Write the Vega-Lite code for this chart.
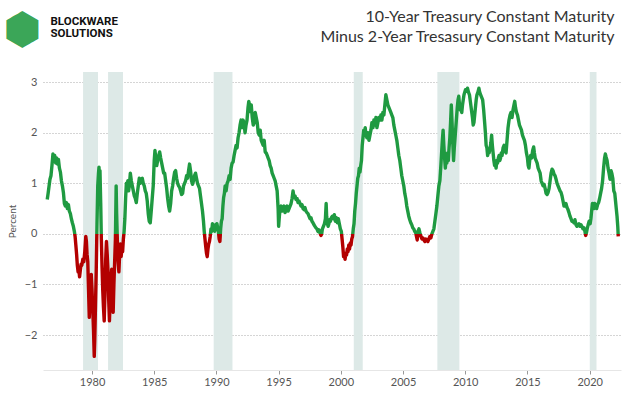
{
  "$schema": "https://vega.github.io/schema/vega-lite/v6.json",
  "width": 578,
  "height": 298,
  "autosize": {"type": "none"},
  "padding": {"left": 43, "top": 72, "right": 3, "bottom": 23},
  "background": "white",
  "config": {"view": {"stroke": null}, "font": "Lato"},
  "datasets": {
    "recessions": [
      {"start": 1979.28, "end": 1980.48},
      {"start": 1981.29, "end": 1982.49},
      {"start": 1989.78, "end": 1991.29},
      {"start": 2001.04, "end": 2001.76},
      {"start": 2007.76, "end": 2009.53},
      {"start": 2020.01, "end": 2020.55}
    ],
    "spread": [
      {"t":1976.40,"v":0.68},{"t":1976.47,"v":0.80},{"t":1976.55,"v":0.95},{"t":1976.62,"v":1.08},{"t":1976.70,"v":1.15},{"t":1976.78,"v":1.35},{"t":1976.86,"v":1.58},{"t":1976.93,"v":1.48},{"t":1977.00,"v":1.55},{"t":1977.08,"v":1.40},{"t":1977.15,"v":1.50},{"t":1977.22,"v":1.38},{"t":1977.30,"v":1.47},{"t":1977.38,"v":1.30},{"t":1977.46,"v":1.22},{"t":1977.54,"v":1.05},{"t":1977.62,"v":0.95},{"t":1977.70,"v":0.82},{"t":1977.78,"v":0.60},{"t":1977.86,"v":0.55},{"t":1977.94,"v":0.62},{"t":1978.02,"v":0.50},{"t":1978.10,"v":0.58},{"t":1978.18,"v":0.45},{"t":1978.26,"v":0.40},{"t":1978.34,"v":0.30},{"t":1978.42,"v":0.22},{"t":1978.50,"v":0.15},{"t":1978.58,"v":0.05},{"t":1978.64,"v":-0.05},{"t":1978.70,"v":-0.22},{"t":1978.76,"v":-0.40},{"t":1978.82,"v":-0.62},{"t":1978.88,"v":-0.75},{"t":1978.94,"v":-0.70},{"t":1979.00,"v":-0.85},{"t":1979.06,"v":-0.72},{"t":1979.12,"v":-0.60},{"t":1979.18,"v":-0.62},{"t":1979.26,"v":-0.50},{"t":1979.34,"v":-0.55},{"t":1979.42,"v":-0.35},{"t":1979.50,"v":-0.05},{"t":1979.55,"v":-0.15},{"t":1979.60,"v":-0.40},{"t":1979.66,"v":-0.55},{"t":1979.72,"v":-1.10},{"t":1979.78,"v":-1.65},{"t":1979.82,"v":-1.40},{"t":1979.88,"v":-0.95},{"t":1979.94,"v":-0.80},{"t":1980.00,"v":-1.10},{"t":1980.06,"v":-1.50},{"t":1980.12,"v":-1.90},{"t":1980.18,"v":-2.42},{"t":1980.22,"v":-2.10},{"t":1980.28,"v":-1.40},{"t":1980.34,"v":-0.70},{"t":1980.40,"v":0.20},{"t":1980.46,"v":0.95},{"t":1980.52,"v":1.20},{"t":1980.56,"v":1.32},{"t":1980.60,"v":1.10},{"t":1980.64,"v":1.25},{"t":1980.70,"v":0.60},{"t":1980.75,"v":-0.10},{"t":1980.80,"v":-0.60},{"t":1980.86,"v":-1.10},{"t":1980.92,"v":-1.45},{"t":1980.98,"v":-1.72},{"t":1981.04,"v":-1.20},{"t":1981.10,"v":-0.50},{"t":1981.16,"v":-0.15},{"t":1981.22,"v":-0.40},{"t":1981.28,"v":-0.70},{"t":1981.34,"v":-1.30},{"t":1981.40,"v":-1.72},{"t":1981.46,"v":-1.30},{"t":1981.52,"v":-0.90},{"t":1981.58,"v":-0.70},{"t":1981.64,"v":-1.20},{"t":1981.70,"v":-1.55},{"t":1981.76,"v":-1.00},{"t":1981.82,"v":-0.55},{"t":1981.88,"v":-0.10},{"t":1981.94,"v":0.95},{"t":1981.98,"v":0.40},{"t":1982.04,"v":-0.15},{"t":1982.10,"v":-0.55},{"t":1982.16,"v":-0.75},{"t":1982.22,"v":-0.40},{"t":1982.28,"v":-0.20},{"t":1982.34,"v":-0.45},{"t":1982.40,"v":-0.30},{"t":1982.46,"v":-0.35},{"t":1982.52,"v":-0.10},{"t":1982.58,"v":0.05},{"t":1982.64,"v":0.30},{"t":1982.70,"v":0.70},{"t":1982.76,"v":1.00},{"t":1982.82,"v":0.90},{"t":1982.88,"v":1.05},{"t":1982.94,"v":0.85},{"t":1983.00,"v":0.95},{"t":1983.08,"v":1.20},{"t":1983.16,"v":1.05},{"t":1983.24,"v":0.95},{"t":1983.32,"v":0.85},{"t":1983.40,"v":0.75},{"t":1983.48,"v":0.70},{"t":1983.56,"v":0.62},{"t":1983.64,"v":0.80},{"t":1983.72,"v":0.95},{"t":1983.80,"v":1.10},{"t":1983.88,"v":1.00},{"t":1983.96,"v":1.08},{"t":1984.04,"v":1.10},{"t":1984.12,"v":1.00},{"t":1984.20,"v":0.95},{"t":1984.28,"v":0.85},{"t":1984.36,"v":0.80},{"t":1984.44,"v":0.65},{"t":1984.52,"v":0.40},{"t":1984.60,"v":0.25},{"t":1984.68,"v":0.22},{"t":1984.76,"v":0.45},{"t":1984.84,"v":0.70},{"t":1984.92,"v":0.95},{"t":1985.00,"v":1.45},{"t":1985.06,"v":1.65},{"t":1985.12,"v":1.50},{"t":1985.20,"v":1.35},{"t":1985.28,"v":1.45},{"t":1985.36,"v":1.55},{"t":1985.44,"v":1.62},{"t":1985.52,"v":1.50},{"t":1985.60,"v":1.40},{"t":1985.68,"v":1.30},{"t":1985.76,"v":1.20},{"t":1985.84,"v":1.20},{"t":1985.92,"v":1.05},{"t":1986.00,"v":0.90},{"t":1986.08,"v":0.70},{"t":1986.16,"v":0.55},{"t":1986.24,"v":0.45},{"t":1986.32,"v":0.60},{"t":1986.40,"v":0.85},{"t":1986.48,"v":0.95},{"t":1986.56,"v":1.10},{"t":1986.64,"v":1.22},{"t":1986.72,"v":1.25},{"t":1986.80,"v":1.10},{"t":1986.88,"v":1.00},{"t":1986.96,"v":0.95},{"t":1987.04,"v":0.92},{"t":1987.12,"v":0.85},{"t":1987.20,"v":0.78},{"t":1987.28,"v":0.80},{"t":1987.36,"v":0.95},{"t":1987.44,"v":1.00},{"t":1987.52,"v":1.05},{"t":1987.60,"v":1.15},{"t":1987.68,"v":1.10},{"t":1987.76,"v":1.25},{"t":1987.84,"v":1.38},{"t":1987.92,"v":1.25},{"t":1988.00,"v":1.05},{"t":1988.08,"v":0.98},{"t":1988.16,"v":1.05},{"t":1988.24,"v":1.15},{"t":1988.32,"v":1.20},{"t":1988.40,"v":1.10},{"t":1988.48,"v":1.00},{"t":1988.56,"v":0.95},{"t":1988.64,"v":0.90},{"t":1988.72,"v":0.75},{"t":1988.80,"v":0.60},{"t":1988.88,"v":0.45},{"t":1988.96,"v":0.25},{"t":1989.02,"v":0.05},{"t":1989.08,"v":-0.10},{"t":1989.14,"v":-0.25},{"t":1989.20,"v":-0.38},{"t":1989.26,"v":-0.45},{"t":1989.32,"v":-0.30},{"t":1989.38,"v":-0.20},{"t":1989.44,"v":-0.15},{"t":1989.50,"v":-0.05},{"t":1989.56,"v":0.10},{"t":1989.62,"v":0.05},{"t":1989.68,"v":0.20},{"t":1989.74,"v":0.12},{"t":1989.80,"v":0.15},{"t":1989.86,"v":0.05},{"t":1989.92,"v":0.18},{"t":1989.98,"v":0.10},{"t":1990.04,"v":0.20},{"t":1990.10,"v":0.12},{"t":1990.16,"v":0.05},{"t":1990.22,"v":-0.10},{"t":1990.28,"v":-0.15},{"t":1990.34,"v":0.10},{"t":1990.40,"v":0.25},{"t":1990.46,"v":0.30},{"t":1990.52,"v":0.55},{"t":1990.58,"v":0.72},{"t":1990.64,"v":0.80},{"t":1990.70,"v":0.95},{"t":1990.78,"v":0.85},{"t":1990.86,"v":1.00},{"t":1990.94,"v":1.05},{"t":1991.02,"v":1.15},{"t":1991.10,"v":1.08},{"t":1991.18,"v":1.30},{"t":1991.26,"v":1.40},{"t":1991.34,"v":1.42},{"t":1991.42,"v":1.55},{"t":1991.50,"v":1.65},{"t":1991.58,"v":1.75},{"t":1991.66,"v":1.70},{"t":1991.74,"v":1.90},{"t":1991.82,"v":2.00},{"t":1991.90,"v":2.15},{"t":1991.98,"v":2.25},{"t":1992.06,"v":2.10},{"t":1992.14,"v":2.25},{"t":1992.22,"v":2.20},{"t":1992.30,"v":2.00},{"t":1992.38,"v":2.15},{"t":1992.46,"v":2.25},{"t":1992.54,"v":2.50},{"t":1992.60,"v":2.62},{"t":1992.66,"v":2.55},{"t":1992.72,"v":2.42},{"t":1992.80,"v":2.55},{"t":1992.88,"v":2.30},{"t":1992.96,"v":2.15},{"t":1993.04,"v":2.20},{"t":1993.12,"v":2.40},{"t":1993.20,"v":2.30},{"t":1993.28,"v":2.20},{"t":1993.36,"v":2.00},{"t":1993.44,"v":1.95},{"t":1993.52,"v":2.05},{"t":1993.60,"v":1.85},{"t":1993.68,"v":1.80},{"t":1993.76,"v":1.75},{"t":1993.84,"v":1.85},{"t":1993.92,"v":1.62},{"t":1994.00,"v":1.60},{"t":1994.08,"v":1.55},{"t":1994.16,"v":1.50},{"t":1994.24,"v":1.45},{"t":1994.32,"v":1.35},{"t":1994.40,"v":1.30},{"t":1994.48,"v":1.20},{"t":1994.56,"v":1.15},{"t":1994.64,"v":1.10},{"t":1994.72,"v":1.05},{"t":1994.80,"v":0.95},{"t":1994.88,"v":0.85},{"t":1994.96,"v":0.50},{"t":1995.00,"v":0.15},{"t":1995.06,"v":0.35},{"t":1995.12,"v":0.50},{"t":1995.20,"v":0.55},{"t":1995.28,"v":0.45},{"t":1995.36,"v":0.48},{"t":1995.44,"v":0.55},{"t":1995.52,"v":0.42},{"t":1995.60,"v":0.50},{"t":1995.68,"v":0.55},{"t":1995.76,"v":0.45},{"t":1995.84,"v":0.50},{"t":1995.92,"v":0.55},{"t":1996.00,"v":0.60},{"t":1996.08,"v":0.70},{"t":1996.16,"v":0.85},{"t":1996.24,"v":0.72},{"t":1996.32,"v":0.75},{"t":1996.40,"v":0.68},{"t":1996.48,"v":0.70},{"t":1996.56,"v":0.62},{"t":1996.64,"v":0.65},{"t":1996.72,"v":0.60},{"t":1996.80,"v":0.55},{"t":1996.88,"v":0.58},{"t":1996.96,"v":0.50},{"t":1997.04,"v":0.48},{"t":1997.12,"v":0.52},{"t":1997.20,"v":0.45},{"t":1997.28,"v":0.42},{"t":1997.36,"v":0.40},{"t":1997.44,"v":0.35},{"t":1997.52,"v":0.30},{"t":1997.60,"v":0.32},{"t":1997.68,"v":0.25},{"t":1997.76,"v":0.22},{"t":1997.84,"v":0.18},{"t":1997.92,"v":0.15},{"t":1998.00,"v":0.12},{"t":1998.08,"v":0.10},{"t":1998.16,"v":0.05},{"t":1998.24,"v":0.08},{"t":1998.32,"v":0.02},{"t":1998.40,"v":-0.03},{"t":1998.46,"v":0.00},{"t":1998.52,"v":0.10},{"t":1998.60,"v":0.15},{"t":1998.68,"v":0.20},{"t":1998.76,"v":0.30},{"t":1998.82,"v":0.60},{"t":1998.86,"v":0.35},{"t":1998.92,"v":0.20},{"t":1998.98,"v":0.15},{"t":1999.04,"v":0.20},{"t":1999.10,"v":0.28},{"t":1999.16,"v":0.25},{"t":1999.24,"v":0.32},{"t":1999.32,"v":0.35},{"t":1999.40,"v":0.30},{"t":1999.48,"v":0.38},{"t":1999.56,"v":0.25},{"t":1999.64,"v":0.32},{"t":1999.72,"v":0.22},{"t":1999.80,"v":0.30},{"t":1999.88,"v":0.20},{"t":1999.96,"v":0.10},{"t":2000.04,"v":0.05},{"t":2000.10,"v":-0.10},{"t":2000.16,"v":-0.25},{"t":2000.22,"v":-0.45},{"t":2000.28,"v":-0.40},{"t":2000.34,"v":-0.50},{"t":2000.40,"v":-0.38},{"t":2000.46,"v":-0.42},{"t":2000.52,"v":-0.30},{"t":2000.58,"v":-0.35},{"t":2000.64,"v":-0.22},{"t":2000.70,"v":-0.30},{"t":2000.76,"v":-0.18},{"t":2000.82,"v":-0.22},{"t":2000.88,"v":-0.10},{"t":2000.94,"v":-0.05},{"t":2001.00,"v":0.10},{"t":2001.06,"v":0.20},{"t":2001.12,"v":0.45},{"t":2001.18,"v":0.60},{"t":2001.24,"v":0.80},{"t":2001.30,"v":0.95},{"t":2001.36,"v":1.10},{"t":2001.42,"v":1.15},{"t":2001.48,"v":1.30},{"t":2001.54,"v":1.22},{"t":2001.60,"v":1.35},{"t":2001.66,"v":1.45},{"t":2001.72,"v":1.75},{"t":2001.78,"v":1.90},{"t":2001.84,"v":2.05},{"t":2001.90,"v":1.95},{"t":2001.96,"v":2.10},{"t":2002.02,"v":1.95},{"t":2002.10,"v":1.90},{"t":2002.18,"v":2.00},{"t":2002.26,"v":1.85},{"t":2002.34,"v":1.95},{"t":2002.42,"v":2.05},{"t":2002.50,"v":2.20},{"t":2002.58,"v":2.10},{"t":2002.66,"v":2.25},{"t":2002.74,"v":2.15},{"t":2002.82,"v":2.30},{"t":2002.90,"v":2.10},{"t":2002.98,"v":2.20},{"t":2003.06,"v":2.30},{"t":2003.14,"v":2.25},{"t":2003.22,"v":2.35},{"t":2003.30,"v":2.25},{"t":2003.38,"v":2.40},{"t":2003.46,"v":2.35},{"t":2003.54,"v":2.55},{"t":2003.62,"v":2.75},{"t":2003.70,"v":2.65},{"t":2003.78,"v":2.55},{"t":2003.86,"v":2.50},{"t":2003.94,"v":2.45},{"t":2004.02,"v":2.40},{"t":2004.10,"v":2.35},{"t":2004.18,"v":2.30},{"t":2004.26,"v":2.15},{"t":2004.34,"v":2.05},{"t":2004.42,"v":1.95},{"t":2004.50,"v":1.85},{"t":2004.58,"v":1.70},{"t":2004.66,"v":1.55},{"t":2004.74,"v":1.45},{"t":2004.82,"v":1.30},{"t":2004.90,"v":1.15},{"t":2004.98,"v":1.05},{"t":2005.06,"v":0.95},{"t":2005.14,"v":0.80},{"t":2005.22,"v":0.70},{"t":2005.30,"v":0.55},{"t":2005.38,"v":0.45},{"t":2005.46,"v":0.35},{"t":2005.54,"v":0.28},{"t":2005.62,"v":0.22},{"t":2005.70,"v":0.18},{"t":2005.78,"v":0.12},{"t":2005.86,"v":0.10},{"t":2005.94,"v":0.05},{"t":2006.02,"v":0.02},{"t":2006.08,"v":-0.05},{"t":2006.14,"v":-0.12},{"t":2006.20,"v":0.05},{"t":2006.28,"v":0.10},{"t":2006.36,"v":0.02},{"t":2006.44,"v":-0.05},{"t":2006.52,"v":-0.10},{"t":2006.60,"v":-0.08},{"t":2006.68,"v":-0.12},{"t":2006.76,"v":-0.15},{"t":2006.84,"v":-0.10},{"t":2006.92,"v":-0.12},{"t":2007.00,"v":-0.15},{"t":2007.08,"v":-0.10},{"t":2007.16,"v":-0.05},{"t":2007.24,"v":-0.08},{"t":2007.32,"v":0.00},{"t":2007.40,"v":0.05},{"t":2007.48,"v":0.10},{"t":2007.56,"v":0.25},{"t":2007.64,"v":0.40},{"t":2007.72,"v":0.55},{"t":2007.80,"v":0.75},{"t":2007.88,"v":0.95},{"t":2007.96,"v":1.05},{"t":2008.04,"v":1.35},{"t":2008.10,"v":1.60},{"t":2008.16,"v":1.85},{"t":2008.22,"v":2.05},{"t":2008.28,"v":1.75},{"t":2008.34,"v":1.50},{"t":2008.40,"v":1.30},{"t":2008.46,"v":1.50},{"t":2008.52,"v":1.40},{"t":2008.58,"v":1.60},{"t":2008.64,"v":1.45},{"t":2008.70,"v":1.70},{"t":2008.76,"v":1.90},{"t":2008.82,"v":2.20},{"t":2008.88,"v":2.55},{"t":2008.94,"v":2.20},{"t":2009.00,"v":1.80},{"t":2009.06,"v":1.45},{"t":2009.12,"v":1.70},{"t":2009.18,"v":1.90},{"t":2009.24,"v":2.10},{"t":2009.30,"v":2.30},{"t":2009.36,"v":2.50},{"t":2009.42,"v":2.65},{"t":2009.48,"v":2.72},{"t":2009.54,"v":2.55},{"t":2009.60,"v":2.45},{"t":2009.66,"v":2.50},{"t":2009.72,"v":2.40},{"t":2009.78,"v":2.55},{"t":2009.84,"v":2.65},{"t":2009.90,"v":2.75},{"t":2009.96,"v":2.80},{"t":2010.02,"v":2.85},{"t":2010.10,"v":2.82},{"t":2010.18,"v":2.88},{"t":2010.26,"v":2.80},{"t":2010.34,"v":2.75},{"t":2010.42,"v":2.60},{"t":2010.50,"v":2.45},{"t":2010.58,"v":2.30},{"t":2010.64,"v":2.15},{"t":2010.70,"v":2.20},{"t":2010.76,"v":2.35},{"t":2010.82,"v":2.50},{"t":2010.88,"v":2.65},{"t":2010.94,"v":2.75},{"t":2011.02,"v":2.80},{"t":2011.10,"v":2.88},{"t":2011.16,"v":2.80},{"t":2011.24,"v":2.75},{"t":2011.32,"v":2.70},{"t":2011.40,"v":2.65},{"t":2011.48,"v":2.45},{"t":2011.56,"v":2.20},{"t":2011.62,"v":2.00},{"t":2011.68,"v":1.75},{"t":2011.74,"v":1.70},{"t":2011.80,"v":1.55},{"t":2011.86,"v":1.65},{"t":2011.92,"v":1.60},{"t":2012.00,"v":1.70},{"t":2012.06,"v":1.80},{"t":2012.12,"v":1.95},{"t":2012.18,"v":1.75},{"t":2012.24,"v":1.60},{"t":2012.30,"v":1.45},{"t":2012.36,"v":1.35},{"t":2012.42,"v":1.40},{"t":2012.48,"v":1.30},{"t":2012.54,"v":1.45},{"t":2012.60,"v":1.40},{"t":2012.66,"v":1.50},{"t":2012.72,"v":1.55},{"t":2012.78,"v":1.45},{"t":2012.84,"v":1.50},{"t":2012.90,"v":1.60},{"t":2012.96,"v":1.55},{"t":2013.04,"v":1.70},{"t":2013.12,"v":1.75},{"t":2013.20,"v":1.65},{"t":2013.28,"v":1.60},{"t":2013.36,"v":1.85},{"t":2013.44,"v":2.10},{"t":2013.52,"v":2.25},{"t":2013.60,"v":2.35},{"t":2013.68,"v":2.40},{"t":2013.76,"v":2.30},{"t":2013.84,"v":2.45},{"t":2013.92,"v":2.55},{"t":2013.98,"v":2.62},{"t":2014.04,"v":2.50},{"t":2014.12,"v":2.40},{"t":2014.20,"v":2.35},{"t":2014.28,"v":2.25},{"t":2014.36,"v":2.15},{"t":2014.44,"v":2.10},{"t":2014.52,"v":2.05},{"t":2014.60,"v":1.95},{"t":2014.68,"v":1.90},{"t":2014.76,"v":1.85},{"t":2014.84,"v":1.75},{"t":2014.92,"v":1.60},{"t":2015.00,"v":1.50},{"t":2015.06,"v":1.35},{"t":2015.12,"v":1.30},{"t":2015.18,"v":1.45},{"t":2015.26,"v":1.55},{"t":2015.34,"v":1.50},{"t":2015.42,"v":1.65},{"t":2015.50,"v":1.72},{"t":2015.56,"v":1.60},{"t":2015.62,"v":1.50},{"t":2015.70,"v":1.45},{"t":2015.78,"v":1.40},{"t":2015.86,"v":1.30},{"t":2015.94,"v":1.25},{"t":2016.02,"v":1.20},{"t":2016.10,"v":1.05},{"t":2016.18,"v":1.00},{"t":2016.26,"v":0.95},{"t":2016.34,"v":0.98},{"t":2016.42,"v":0.90},{"t":2016.50,"v":0.80},{"t":2016.58,"v":0.78},{"t":2016.66,"v":0.82},{"t":2016.74,"v":0.90},{"t":2016.82,"v":1.05},{"t":2016.90,"v":1.20},{"t":2016.98,"v":1.28},{"t":2017.06,"v":1.25},{"t":2017.14,"v":1.18},{"t":2017.22,"v":1.15},{"t":2017.30,"v":1.08},{"t":2017.38,"v":1.00},{"t":2017.46,"v":0.95},{"t":2017.54,"v":0.90},{"t":2017.62,"v":0.85},{"t":2017.70,"v":0.82},{"t":2017.78,"v":0.75},{"t":2017.86,"v":0.65},{"t":2017.94,"v":0.55},{"t":2018.02,"v":0.55},{"t":2018.10,"v":0.60},{"t":2018.18,"v":0.52},{"t":2018.26,"v":0.48},{"t":2018.34,"v":0.42},{"t":2018.42,"v":0.35},{"t":2018.50,"v":0.30},{"t":2018.58,"v":0.25},{"t":2018.66,"v":0.25},{"t":2018.74,"v":0.22},{"t":2018.82,"v":0.28},{"t":2018.90,"v":0.18},{"t":2018.98,"v":0.15},{"t":2019.06,"v":0.18},{"t":2019.14,"v":0.20},{"t":2019.22,"v":0.15},{"t":2019.30,"v":0.18},{"t":2019.38,"v":0.15},{"t":2019.46,"v":0.10},{"t":2019.54,"v":0.12},{"t":2019.62,"v":0.05},{"t":2019.68,"v":-0.03},{"t":2019.74,"v":0.02},{"t":2019.80,"v":0.10},{"t":2019.88,"v":0.18},{"t":2019.96,"v":0.25},{"t":2020.04,"v":0.20},{"t":2020.10,"v":0.30},{"t":2020.16,"v":0.45},{"t":2020.22,"v":0.60},{"t":2020.28,"v":0.55},{"t":2020.34,"v":0.50},{"t":2020.40,"v":0.60},{"t":2020.48,"v":0.55},{"t":2020.56,"v":0.50},{"t":2020.64,"v":0.58},{"t":2020.72,"v":0.62},{"t":2020.80,"v":0.70},{"t":2020.88,"v":0.80},{"t":2020.96,"v":0.90},{"t":2021.04,"v":1.05},{"t":2021.12,"v":1.30},{"t":2021.20,"v":1.50},{"t":2021.26,"v":1.58},{"t":2021.32,"v":1.52},{"t":2021.40,"v":1.45},{"t":2021.48,"v":1.30},{"t":2021.56,"v":1.20},{"t":2021.64,"v":1.08},{"t":2021.72,"v":1.25},{"t":2021.78,"v":1.20},{"t":2021.86,"v":1.10},{"t":2021.94,"v":0.85},{"t":2022.02,"v":0.80},{"t":2022.08,"v":0.65},{"t":2022.14,"v":0.50},{"t":2022.20,"v":0.35},{"t":2022.26,"v":0.15},{"t":2022.30,"v":-0.05}
    ]
  },
  "layer": [
    {
      "data": {"name": "recessions"},
      "mark": {"type": "rect", "color": "#dde9e7"},
      "encoding": {
        "x": {
          "field": "start", "type": "quantitative",
          "scale": {"domain": [1976.06, 2022.52], "nice": false, "zero": false},
          "axis": {
            "orient": "bottom", "values": [1980, 1985, 1990, 1995, 2000, 2005, 2010, 2015, 2020],
            "format": "d", "grid": false, "domainColor": "#e6e6e6", "tickColor": "#999999", "tickSize": 4,
            "labelColor": "#555555", "labelFontSize": 11, "labelFont": "Lato", "labelPadding": 2,
            "title": "⬢", "titleColor": "#1f9a41", "titleOpacity": 0.9, "titleFontSize": 44, "titleFont": "DejaVu Sans",
            "titleFontWeight": "normal", "titleAngle": 0, "titleAlign": "center", "titleBaseline": "middle",
            "titleX": -21, "titleY": -340
          }
        },
        "x2": {"field": "end"}
      }
    },
    {
      "data": {"name": "spread"},
      "mark": {
        "type": "line", "strokeWidth": 3.4, "strokeJoin": "round",
        "stroke": {
          "gradient": "linear", "x1": 0, "y1": 0, "x2": 0, "y2": 1,
          "stops": [
            {"offset": 0, "color": "#1f9a41"},
            {"offset": 0.5434, "color": "#1f9a41"},
            {"offset": 0.5434, "color": "#b30000"},
            {"offset": 1, "color": "#b30000"}
          ]
        }
      },
      "encoding": {
        "x": {
          "field": "t", "type": "quantitative",
          "axis": {
            "orient": "top", "labels": false, "ticks": false, "domain": false, "grid": false,
            "title": ["10-Year Treasury Constant Maturity", "Minus 2-Year Tresasury Constant Maturity"],
            "titleFont": "Lato", "titleFontWeight": "normal", "titleFontSize": 16,
            "titleColor": "#333333", "titleLineHeight": 20, "titleAlign": "right", "titleBaseline": "top",
            "titleAngle": 0, "titleX": 571, "titleY": -64
          }
        },
        "y": {
          "field": "v", "type": "quantitative",
          "scale": {"domain": [-2.69, 3.2], "nice": false},
          "axis": {
            "orient": "left", "title": "Percent", "values": [-2, -1, 0, 1, 2, 3], "format": "d",
            "grid": true, "gridDash": [1, 2], "gridColor": "#aaaaaa", "gridWidth": 1,
            "domain": false, "ticks": false, "labelPadding": 6, "labelColor": "#555555",
            "labelFontSize": 11, "labelFont": "Lato",
            "titleFont": "Lato", "titleFontSize": 10, "titleFontWeight": "normal", "titleColor": "#555555",
            "titleX": -31, "titleY": 149, "titleBaseline": "middle", "titleAlign": "center"
          }
        }
      }
    },
    {
      "mark": {"type": "rule", "color": "#888888", "strokeWidth": 1},
      "encoding": {
        "y": {
          "datum": 0, "type": "quantitative",
          "axis": {
            "orient": "right", "labels": false, "ticks": false, "domain": false, "grid": false,
            "title": ["BLOCKWARE", "SOLUTIONS"],
            "titleFont": "Roboto", "titleFontWeight": "bold", "titleFontSize": 11.5,
            "titleColor": "#111111", "titleLineHeight": 12.5, "titleAlign": "left", "titleBaseline": "top",
            "titleAngle": 0, "titleX": -571, "titleY": -57
          }
        }
      }
    }
  ],
  "resolve": {"axis": {"x": "independent", "y": "independent"}}
}
